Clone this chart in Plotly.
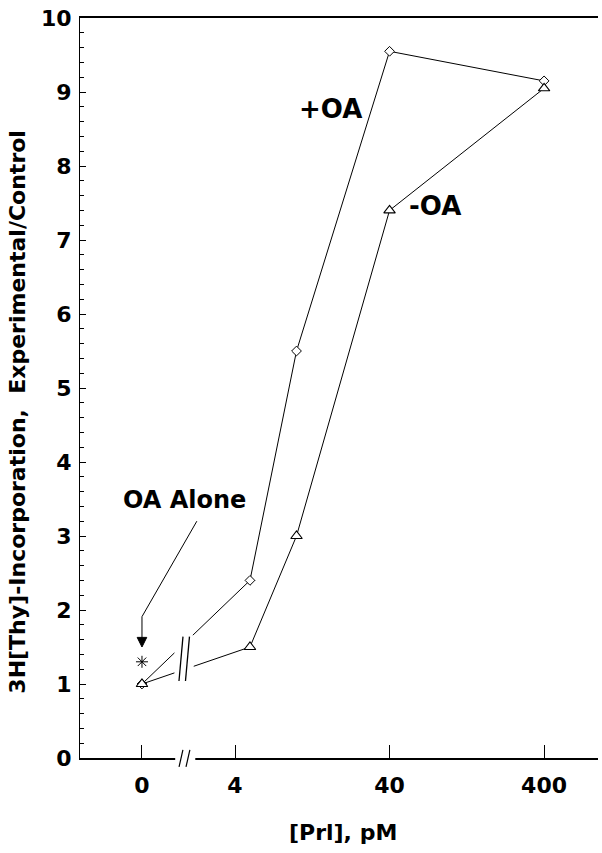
import math
import plotly.graph_objects as go

# ---- data ----
conc = [0, 5, 10, 40, 400]                 # [Prl], pM
plus_oa = [1.0, 2.4, 5.5, 9.55, 9.15]       # +OA
minus_oa = [1.0, 1.5, 3.0, 7.4, 9.05]       # -OA
oa_alone_conc = [0]
oa_alone_val = [1.3]
x_tick_conc = [0, 4, 40, 400]
x_tick_text = ["0", "4", "40", "400"]
y_ticks = list(range(0, 11))

# broken log axis: 0 is drawn one decade below 10 pM's decade start
ZERO_POS = 0.0


def xpos(c):
    return ZERO_POS if c == 0 else math.log10(c)


XMIN, XMAX = -0.401, 2.951
YMIN, YMAX = 0, 10

FONT = "DejaVu Sans, Verdana, sans-serif"

fig = go.Figure()

fig.add_trace(go.Scatter(
    x=[xpos(c) for c in conc], y=plus_oa, mode="lines+markers", name="+OA",
    line=dict(color="black", width=1),
    marker=dict(symbol="diamond", size=7.5, color="white",
                line=dict(color="black", width=1)),
    cliponaxis=False, showlegend=False))

fig.add_trace(go.Scatter(
    x=[xpos(c) for c in conc], y=minus_oa, mode="lines+markers", name="-OA",
    line=dict(color="black", width=1),
    marker=dict(symbol="triangle-up", size=10, color="white",
                line=dict(color="black", width=1.1)),
    cliponaxis=False, showlegend=False))

fig.add_trace(go.Scatter(
    x=[xpos(c) for c in oa_alone_conc], y=oa_alone_val, mode="markers",
    name="OA Alone",
    marker=dict(symbol="asterisk-open", size=10, color="black",
                line=dict(color="black", width=1)),
    cliponaxis=False, showlegend=False))


def px(p):
    return (p - XMIN) / (XMAX - XMIN)


shapes = []
# break on the data lines
shapes.append(dict(type="rect", xref="x", yref="y", x0=0.21, x1=0.335,
                   y0=1.12, y1=1.66, fillcolor="white", line=dict(width=0),
                   layer="above"))
for dx in (0.0, 0.042):
    shapes.append(dict(type="line", xref="x", yref="y",
                       x0=0.2395 + dx, y0=1.04, x1=0.2654 + dx, y1=1.64,
                       line=dict(color="black", width=1.3), layer="above"))
# break on the x axis
shapes.append(dict(type="rect", xref="paper", yref="paper",
                   x0=px(0.215), x1=px(0.345), y0=-0.006, y1=0.006,
                   fillcolor="white", line=dict(width=0), layer="above"))
for dx in (0.0, 0.045):
    shapes.append(dict(type="line", xref="paper", yref="paper",
                       x0=px(0.24 + dx), y0=-0.012, x1=px(0.265 + dx), y1=0.011,
                       line=dict(color="black", width=1.2), layer="above"))
# bent arrow from "OA Alone" label
shapes.append(dict(type="path", xref="x", yref="y",
                   path="M 0.355,3.2 L 0,1.91 L 0,1.62",
                   line=dict(color="black", width=1), layer="above"))
shapes.append(dict(type="path", xref="x", yref="y",
                   path="M -0.031,1.63 L 0.031,1.63 L 0,1.5 Z",
                   fillcolor="black", line=dict(color="black", width=1),
                   layer="above"))

tickfont = dict(family=FONT, size=22, color="black", weight="bold")

annotations = [
    dict(x=1.217, y=8.77, xref="x", yref="y", text="<b>+OA</b>",
         showarrow=False, font=dict(family=FONT, size=26, color="black")),
    dict(x=1.896, y=7.46, xref="x", yref="y", text="<b>-OA</b>",
         showarrow=False, font=dict(family=FONT, size=26, color="black")),
    dict(x=0.278, y=3.48, xref="x", yref="y", text="<b>OA Alone</b>",
         showarrow=False, font=dict(family=FONT, size=24, color="black")),
    dict(x=-0.1197, y=0.468, xref="paper", yref="paper",
         text="<b>3H[Thy]-Incorporation,&nbsp;&nbsp;Experimental/Control</b>",
         textangle=-90, showarrow=False, xanchor="center", yanchor="middle",
         font=dict(family=FONT, size=22, color="black")),
    dict(x=0.508, y=-0.1, xref="paper", yref="paper",
         text="<b>[Prl], pM</b>", showarrow=False,
         xanchor="center", yanchor="middle",
         font=dict(family=FONT, size=22, color="black")),
]

fig.update_layout(
    width=602, height=853,
    margin=dict(l=80, r=4, t=18, b=95),
    paper_bgcolor="white", plot_bgcolor="white",
    shapes=shapes, annotations=annotations,
    xaxis=dict(range=[XMIN, XMAX], showgrid=False, zeroline=False,
               showline=True, linecolor="black", linewidth=1.5, mirror=True,
               ticks="inside", ticklen=13, tickwidth=1, tickcolor="black",
               tickvals=[xpos(c) for c in x_tick_conc], ticktext=x_tick_text,
               tickfont=tickfont, ticklabelstandoff=7),
    yaxis=dict(range=[YMIN, YMAX], showgrid=False, zeroline=False,
               showline=True, linecolor="black", linewidth=1.2,
               ticks="inside", ticklen=6, tickwidth=1, tickcolor="black",
               tickvals=y_ticks, ticktext=[str(v) for v in y_ticks],
               tickfont=tickfont, ticklabelstandoff=3,
               minor=dict(dtick=0.2, ticks="inside", ticklen=4,
                          tickcolor="black", tickwidth=1, showgrid=False)),
)

fig.write_html("out.html")
